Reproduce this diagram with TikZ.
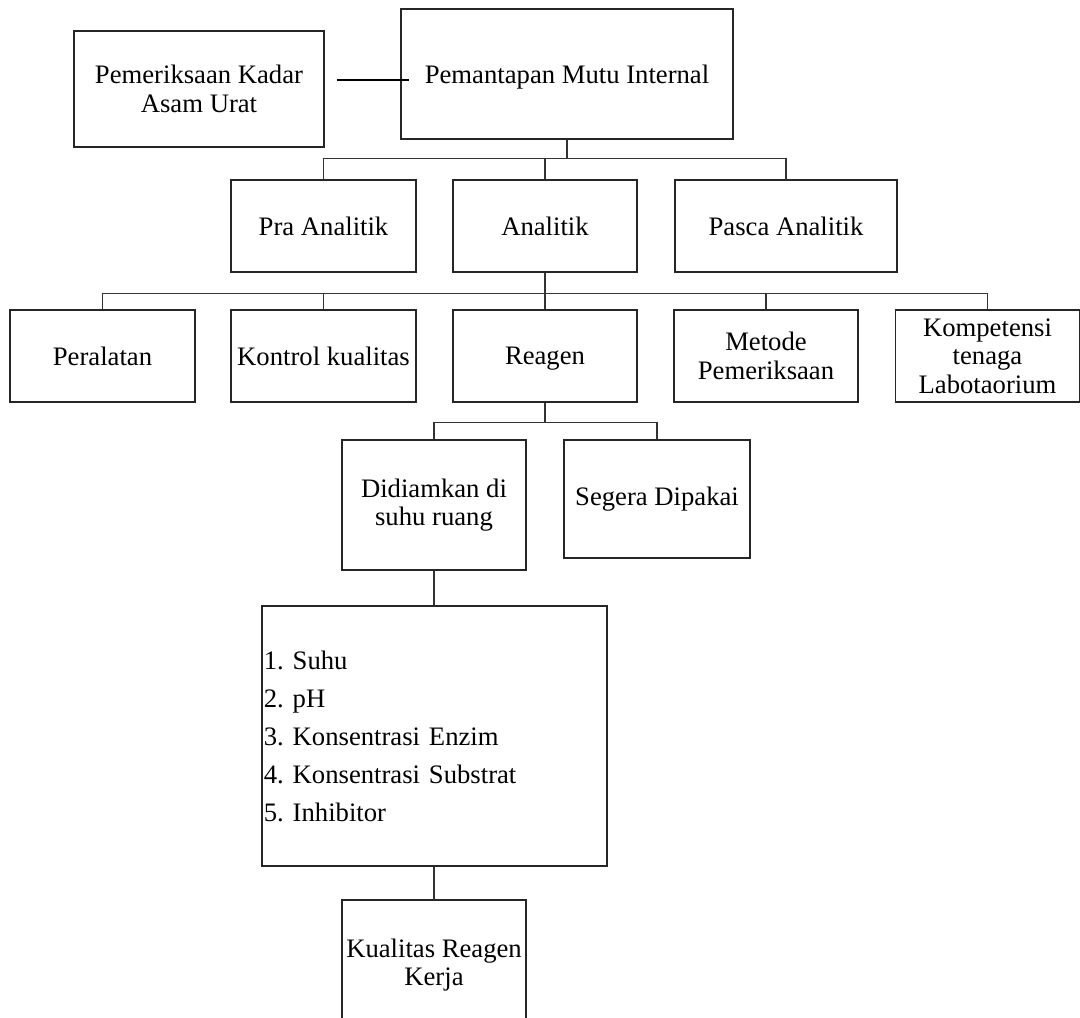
\documentclass[tikz,border=0pt]{standalone}
\usepackage{fontspec}
\setmainfont{Liberation Serif}
\usetikzlibrary{calc}
\tikzset{
	kotak/.style={draw=black!85, line width=0.8pt, align=center, inner sep=1pt,
		font=\fontsize{20}{21.5}\selectfont},
	garis/.style={draw=black!80, line width=0.8pt}
}

\begin{document}
\begin{tikzpicture}[x=0.75pt, y=-0.75pt]
			%%%%% START %%%%%
			\useasboundingbox (0, 0) rectangle (1080, 1017);
			
			\node[kotak, minimum width=187.5pt, minimum height=87pt] (pk) at (199, 89) {Pemeriksaan Kadar\\Asam Urat};
			\node[kotak, minimum width=249pt, minimum height=97.5pt, text depth=0pt] (pmi) at (567, 74) {Pemantapan Mutu Internal};
			\draw[line width=1.5pt, shorten <=9pt, shorten >=-6.75pt]
				([yshift=-4.5pt]pmi.west -| pk.east) -- ([yshift=-4.5pt]pmi.west);
			
			\node[kotak, minimum width=138.75pt, minimum height=69pt] (pra) at (323.5, 226) {Pra Analitik};
			\node[kotak, minimum width=138pt, minimum height=69pt] (ana) at (545, 226) {Analitik};
			\node[kotak, minimum width=166.5pt, minimum height=69pt] (pasca) at (786, 226) {Pasca Analitik};
			
			\draw[garis] (pmi.south) -- ++(0, 19) coordinate (bus1);
			\draw[garis] (pra.north) |- (bus1) -| (pasca.north);
			\draw[garis] (ana.north) -- (ana.north |- bus1);
			
			\node[kotak, minimum width=138.75pt, minimum height=69pt] (per) at (102.5, 356) {Peralatan};
			\node[kotak, minimum width=138.75pt, minimum height=69pt] (kk) at (323.5, 356) {Kontrol kualitas};
			\node[kotak, minimum width=138pt, minimum height=69pt, text depth=0pt] (rea) at (545, 356) {Reagen};
			\node[kotak, minimum width=138pt, minimum height=69pt] (met) at (766, 356) {Metode\\Pemeriksaan};
			\node[kotak, minimum width=138pt, minimum height=69pt] (komp) at (987.5, 356) {Kompetensi\\tenaga\\Labotaorium};
			
			\draw[garis] (ana.south) -- ++(0, 21) coordinate (bus2);
			\draw[garis] (per.north) |- (bus2) -| (komp.north);
			\draw[garis] (kk.north) -- (kk.north |- bus2);
			\draw[garis] (rea.north) -- (rea.north |- bus2);
			\draw[garis] (met.north) -- (met.north |- bus2);
			
			\node[kotak, minimum width=138pt, minimum height=97.5pt] (did) at (434, 505) {Didiamkan di\\suhu ruang};
			\node[kotak, minimum width=139.5pt, minimum height=88.5pt] (seg) at (657, 499) {Segera Dipakai};
			
			\draw[garis] (rea.south) -- ++(0, 20) coordinate (bus3);
			\draw[garis] (did.north) |- (bus3) -| (seg.north);
			
			\node[kotak, minimum width=258.75pt, minimum height=195pt, text width=256pt, align=left,
				font=\fontsize{20}{28.5}\selectfont\frenchspacing] (faktor) at (434.5, 736)
				{1. Suhu\\2. pH\\3. Konsentrasi Enzim\\4. Konsentrasi Substrat\\5. Inhibitor};
			\draw[garis] (did.south) -- (faktor.north -| did.south);
			
			\node[kotak, minimum width=138pt, minimum height=97.5pt] (kual) at (434, 965) {Kualitas Reagen\\Kerja};
			\draw[garis] (faktor.south -| kual.north) -- (kual.north);
			%%%%% END %%%%%
		\end{tikzpicture}
\end{document}
